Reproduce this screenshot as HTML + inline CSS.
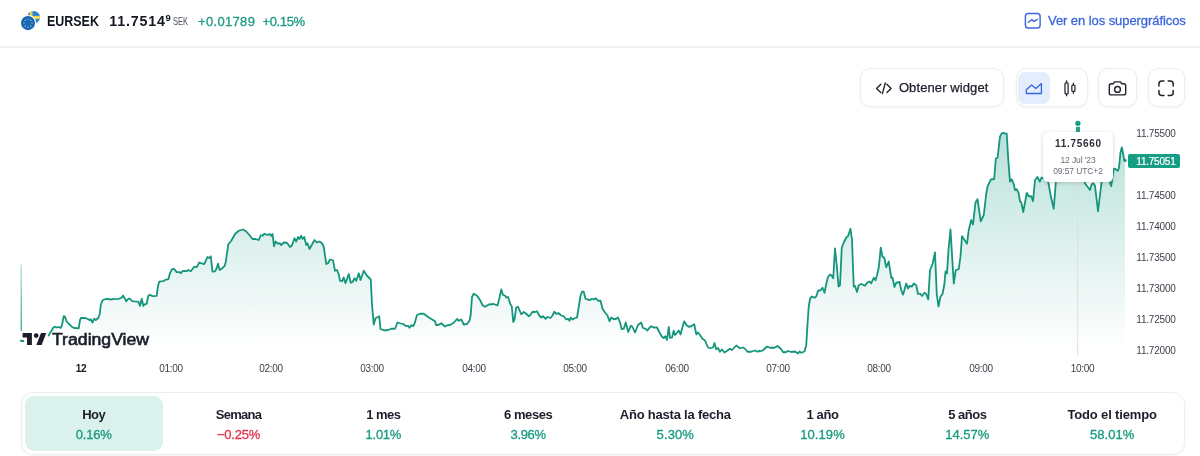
<!DOCTYPE html>
<html lang="es"><head><meta charset="utf-8"><title>EURSEK</title>
<style>
*{box-sizing:border-box;margin:0;padding:0}
html,body{width:1200px;height:456px;background:#fff;overflow:hidden}
body{font-family:"Liberation Sans",sans-serif;color:#131722;position:relative;will-change:transform}
.abs{position:absolute}
.hdr{position:absolute;left:0;top:0;width:1200px;height:48px;border-bottom:2px solid #f0f1f3}
.sym{position:absolute;left:46.9px;top:12px;font-weight:700;font-size:14.2px;line-height:18px;white-space:nowrap;transform:scaleX(0.878);transform-origin:0 0}
.px{position:absolute;left:109.2px;top:12.1px;font-weight:700;font-size:14.2px;line-height:18px;letter-spacing:0.85px;white-space:nowrap}
.px sup{font-size:9.5px;vertical-align:baseline;position:relative;top:-5.1px;left:-0.2px;letter-spacing:0}
.cur{position:absolute;left:172.9px;top:16.1px;font-size:10.4px;line-height:12px;color:#4a4d58;transform:scaleX(0.72);transform-origin:0 0}
.chg{position:absolute;top:12.7px;font-size:13px;line-height:18px;color:#1a9a80;white-space:nowrap;font-weight:400;-webkit-text-stroke:0.3px #1a9a80}
.lnk{position:absolute;left:1048px;top:12.4px;font-size:13px;line-height:18px;color:#3d66dc;white-space:nowrap;letter-spacing:-0.07px;-webkit-text-stroke:0.3px #3d66dc}
.btn{position:absolute;top:68.3px;height:39.2px;border:1px solid #eeeeef;border-radius:10px;background:#fff;box-shadow:0 1px 3px rgba(0,0,0,.05)}
.bt{position:absolute;left:37.6px;top:9.9px;font-size:13px;line-height:18px;white-space:nowrap;color:#20232e;letter-spacing:0.1px;-webkit-text-stroke:0.25px #20232e}
.yl{position:absolute;left:1136.3px;font-size:10px;line-height:12px;color:#3c3f4a;letter-spacing:-0.2px;white-space:nowrap}
.xl{position:absolute;top:363px;width:60px;text-align:center;font-size:10px;line-height:12px;color:#3c3f4a;letter-spacing:-0.3px}
.xl.b{font-weight:700;color:#131722}
.rng{position:absolute;left:21px;top:392px;width:1163.5px;height:62.6px;border:1px solid #eeeeef;border-radius:12px;box-shadow:0 1px 3px rgba(0,0,0,.05)}
.cell{position:absolute;top:396.3px;height:54.4px;border-radius:9px;text-align:center;padding-top:10.2px}
.cell.act{background:#dbf1ec}
.rl{font-size:13px;line-height:17px;font-weight:700;color:#1c1f2a;letter-spacing:-0.6px;white-space:nowrap}
.rv{font-size:13px;line-height:17px;margin-top:2.6px;-webkit-text-stroke:0.32px currentColor}
.up{color:#1a9a80}.dn{color:#e0364b}
.tip{position:absolute;left:1043px;top:132px;width:70px;height:50px;background:#fff;border-radius:5px;box-shadow:0 1px 4px rgba(0,0,0,.18);text-align:center}
.tip .v{font-size:10px;font-weight:700;line-height:12px;margin-top:6.4px;letter-spacing:0.68px;padding-left:0.7px;color:#2a2e39}
.tip .d{font-size:8.5px;line-height:11px;color:#6a6d78;letter-spacing:-0.1px}
.plab{position:absolute;left:1127.7px;top:154.4px;width:52.5px;height:13.3px;border-radius:2px;background:#169e84;color:#fff;font-size:10px;line-height:15.2px;padding-left:8.6px;letter-spacing:-0.22px;-webkit-text-stroke:0.2px #fff;overflow:hidden}
.tvt{position:absolute;left:51.5px;top:329.5px;font-size:15.8px;font-weight:400;line-height:20px;color:#1c1f2a;transform:scaleX(1.117);transform-origin:0 0;white-space:nowrap;-webkit-text-stroke:0.6px #1c1f2a;text-shadow:0 0 2px #fff,0 0 2px #fff,0 0 3px #fff}
</style></head><body>
<div class="hdr">
<svg class="abs" style="left:19px;top:8px" width="24" height="24" viewBox="0 0 24 24">
<defs><clipPath id="se"><circle cx="14.6" cy="9.3" r="6.4"/></clipPath></defs>
<g clip-path="url(#se)"><rect x="7" y="1" width="16" height="16" fill="#2a86dc"/><rect x="10.8" y="1" width="2.7" height="16" fill="#f5d53f"/><rect x="7" y="7.9" width="16" height="3.1" fill="#f5d53f"/></g>
<circle cx="9" cy="15.1" r="8.1" fill="#fff"/>
<circle cx="9" cy="15.1" r="7.05" fill="#1766b8"/>
<g fill="#e6dfa0"><circle cx="9" cy="11.1" r=".6"/><circle cx="9" cy="19.1" r=".6"/><circle cx="5" cy="15.1" r=".6"/><circle cx="13" cy="15.1" r=".6"/><circle cx="6.2" cy="12.3" r=".6"/><circle cx="11.8" cy="12.3" r=".6"/><circle cx="6.2" cy="17.9" r=".6"/><circle cx="11.8" cy="17.9" r=".6"/></g>
</svg>
<div class="sym">EURSEK</div>
<div class="px">11.7514<sup>9</sup></div>
<div class="cur">SEK</div>
<div class="chg" style="left:198px;letter-spacing:0.33px">+0.01789</div>
<div class="chg" style="left:262.5px;letter-spacing:-0.37px">+0.15%</div>
<svg class="abs" style="left:1024px;top:12px" width="18" height="18" viewBox="1024 12 18 18" fill="none" stroke="#3d66dc" stroke-width="1.45" stroke-linecap="round" stroke-linejoin="round"><rect x="1025.4" y="13.4" width="14.7" height="14.7" rx="2.8"/><path d="M1028.4 22.2 L1031.6 19.7 L1034 21.4 L1037.4 19.3"/></svg>
<div class="lnk">Ver en los supergráficos</div>
</div>

<!-- toolbar -->
<div class="btn" style="left:860.3px;width:144px"><div class="bt">Obtener widget</div></div>
<div class="btn" style="left:1015.8px;width:72.6px"><div class="abs" style="left:1.2px;top:2.6px;width:32.2px;height:32.6px;border-radius:7px;background:#e3edfc"></div></div>
<div class="btn" style="left:1098.3px;width:38.4px"></div>
<div class="btn" style="left:1147.5px;width:37.2px"></div>
<svg class="abs" style="left:860px;top:64px" width="340" height="48" viewBox="860 64 340 48" fill="none" stroke-linecap="round" stroke-linejoin="round">
<g stroke="#20232e" stroke-width="1.35"><path d="M880.8 84.2 L876.6 88.4 L880.8 92.6"/><path d="M886.9 84.2 L891.1 88.4 L886.9 92.6"/><path d="M885.3 83 L882.4 93.6"/></g>
<path d="M1026.3 93.5 V89.7 L1031.6 85.1 L1035.8 88.5 L1041.4 83.6 V93.5 Z" stroke="#3566dd" stroke-width="1.3"/>
<g stroke="#20232e" stroke-width="1.25" stroke-linecap="butt"><rect x="1065" y="82.8" width="3.1" height="11" rx=".9"/><path d="M1066.55 80.3V82.8M1066.55 93.8V96.2"/><rect x="1071.85" y="85.1" width="3.1" height="6.3" rx=".9"/><path d="M1073.4 82.7V85.1M1073.4 91.4V93.8"/></g>
<g stroke="#20232e" stroke-width="1.4"><path d="M1109.3 85.7 a1.9 1.9 0 0 1 1.9 -1.9 h2 l1.3 -1.9 h6 l1.3 1.9 h2 a1.9 1.9 0 0 1 1.9 1.9 v7.3 a1.9 1.9 0 0 1 -1.9 1.9 h-12.6 a1.9 1.9 0 0 1 -1.9 -1.9 Z"/><circle cx="1117.5" cy="89.4" r="2.9"/></g>
<g stroke="#20232e" stroke-width="1.5"><path d="M1158.9 86 V84 a3 3 0 0 1 3 -3 H1163.9"/><path d="M1168.2 81 H1170.2 a3 3 0 0 1 3 3 V86"/><path d="M1173.2 90.4 V92.4 a3 3 0 0 1 -3 3 H1168.2"/><path d="M1163.9 95.4 H1161.9 a3 3 0 0 1 -3 -3 V90.4"/></g>
</svg>

<!-- chart -->
<svg class="abs" style="left:0;top:0" width="1200" height="380" viewBox="0 0 1200 380">
<defs><linearGradient id="g" x1="0" y1="130" x2="0" y2="349" gradientUnits="userSpaceOnUse"><stop offset="0" stop-color="#169b82" stop-opacity=".305"/><stop offset="1" stop-color="#169b82" stop-opacity="0"/></linearGradient><linearGradient id="vg" x1="0" y1="264" x2="0" y2="335" gradientUnits="userSpaceOnUse"><stop offset="0" stop-color="#169b82" stop-opacity=".3"/><stop offset="1" stop-color="#14957c" stop-opacity="1"/></linearGradient></defs>
<path d="M20,265 L20.5,265 L20.9,340.6 L21.3,341 L23.4,341 L24.6,341.2 L30,339.5 L36,340 L42,337.5 L47,336.8 L48.5,335.5 L50.5,332.2 L52,330 L53.3,327.5 L55,326.7 L56.7,327.5 L58.3,327 L60.8,327.8 L62,325 L63.7,316.2 L65,316.7 L66.7,321.7 L69.2,324.2 L71.7,326.7 L74.2,328 L78.7,328.3 L80,320 L81.2,317.8 L85,318 L87.5,318.8 L90,320.3 L90.8,319.2 L92.5,322.5 L94.2,318.7 L95.8,320 L98.3,318 L99.7,314.2 L100.8,305 L102.5,300.3 L105,299.2 L108.3,298.8 L110,299.5 L113.3,299.2 L118.3,298.8 L121.3,298 L123,295.5 L125,298.7 L126.3,301.3 L128.3,298.7 L130,298.7 L131.7,300.8 L133.7,301.3 L138.3,301.7 L140,305.8 L141.7,298.7 L143.3,305.8 L145,304.2 L146.7,303.8 L148.3,295.8 L150,294.7 L152.5,296.2 L156.7,295.8 L158,285.8 L159.2,281.7 L163.3,281.2 L165,280 L168.3,279.2 L170,273.3 L171.7,269.7 L173.3,268.7 L175,269.7 L176.7,272.2 L179.7,272.2 L180.8,273.3 L182.5,271.2 L185,270.8 L186.7,271.2 L188.3,270 L190.8,271.2 L194.2,266.7 L196.7,267.2 L199.2,262.5 L201.7,263.3 L204.2,264.2 L207.5,257 L209.2,258 L210.8,256.3 L212.5,271.7 L215,271.3 L216.3,269.2 L218,263.7 L219.7,270 L221.7,268.7 L224.7,265.8 L225.8,261.7 L227.5,250 L228.2,244.5 L231.25,240.75 L235,234 L238.75,230.75 L243,229.5 L246.25,231.5 L250,235.75 L252.5,239 L255.5,239 L258.75,240 L260.75,235.25 L262.5,235.75 L264.5,233.75 L267.5,235 L269.5,234 L271.25,235.75 L272.5,234 L274,246.25 L275.5,241.5 L278,243.75 L279.5,243.25 L281.25,245 L283.75,242.5 L287,242.75 L290,247 L291.75,245.75 L294.5,238.25 L296.25,241.5 L298,237 L299.25,239 L301.25,235.75 L302.5,239 L304.25,237 L306.25,245 L307.5,243.25 L309.5,249 L312,244.5 L314.5,240 L316.75,242.5 L319.5,241.5 L322,243.25 L323.75,247 L326.25,264 L328,263.25 L330,259.5 L333,260.25 L335,270.75 L337,270 L338.75,274.5 L340,280.75 L342,281.25 L343.75,277.5 L345.5,283.25 L348.75,274 L350.75,282.75 L352.5,282 L354.5,278.25 L356.25,280.75 L358.75,273.25 L360.5,280 L363.75,270.75 L367,275.75 L370.75,279.5 L372,304.5 L373.75,324.5 L375.5,318.25 L379.25,316.25 L380.5,329 L383.75,330.25 L387.5,330.25 L391.25,328.75 L395,328.75 L397.5,322.5 L400,323.25 L403,324 L406.25,326.25 L408,325.75 L409.5,327.75 L411.25,325.25 L413,326.25 L414.5,323.75 L417,315 L420,313.75 L423.75,313.75 L427.5,316.5 L430,318.25 L435,321.25 L436.25,325.25 L439.5,324.5 L441.25,323.25 L445,326.5 L447.5,325.25 L450,325 L453.75,322.75 L457,319 L458.75,320.75 L461.25,319.5 L463.75,324.5 L467,324 L469.5,320.75 L470.75,314.5 L472,297 L473.75,293.75 L477,295.75 L480,300 L482.5,305 L485,306.75 L488.75,304.5 L493.75,304 L497.5,305.5 L499.5,297.5 L501.25,289.5 L503,295 L505,295.5 L506.25,297.5 L508,297 L510.5,304.5 L511.75,306.25 L513.25,322 L514.5,319.5 L516.25,307.5 L518,306.75 L521.25,314.25 L523.75,312 L526.25,313.75 L528.75,316.25 L530.75,314.5 L532.5,311.75 L535,312 L537,311.25 L539.25,315.5 L541.25,317.5 L543,316.25 L545.5,318.75 L547.5,317 L550.5,318 L552.5,315.5 L554.25,311.75 L556.25,313.75 L558.75,313.25 L561.25,315.5 L563.75,316.25 L566.25,319.5 L568,318.75 L569.5,320.75 L570.75,317.5 L572.5,319.5 L574.5,318.25 L577,317.5 L578.75,307 L580.5,295.75 L582,291.75 L583.75,291.75 L585.5,298.75 L587.5,299.5 L590,300 L592,298.75 L593.75,299.5 L595.75,298.25 L598,300.75 L600.5,300.75 L602.5,308.75 L605,312.5 L607.5,315.5 L609.5,321.25 L611.25,317.5 L613.75,319.25 L616.25,318.75 L618,317.5 L620,322.5 L621.75,329.25 L623.75,328.75 L625.75,322.5 L628.25,332 L630.75,325.75 L632.5,327 L635,332.5 L638,325 L641.25,322.5 L643,328 L645.5,328.75 L647.5,330.5 L649.25,328 L651.25,326.25 L653.75,327.5 L657,327.5 L659.5,332.5 L662,336.75 L663.75,338 L665.5,336.25 L667,340 L668.75,327 L670,338 L672,337.5 L673.75,330.75 L675,335 L676.75,333 L678.75,330.5 L680.5,334.5 L682.5,327 L684.25,321.25 L686.25,325 L688.75,326.75 L691.25,326.25 L694.25,324.25 L696.25,334.25 L698,332.5 L700,335 L702.5,338.75 L705,340.5 L708,347.5 L710.5,348.25 L713,347.5 L714.5,343 L716.25,349.25 L718,348 L720,351.75 L722,349.5 L724.5,352.5 L727.5,350.5 L730,348.75 L732,350 L736.25,345.5 L740,348.25 L743,347.5 L745,348.75 L747.5,351.75 L751.25,351.75 L755,350.5 L757.5,351.75 L759.5,350.75 L760,351.5 L763,350.25 L767,346.5 L770,347.75 L774.5,347.75 L777.5,346 L780.5,348.5 L783.25,352.25 L785.75,352.25 L788,351 L791.25,352 L795,351.5 L798,353.5 L799.5,351.5 L801.25,352.75 L804.5,351.5 L806.25,345.25 L807.5,324 L808.75,306.5 L810,299 L811.75,296.5 L814.5,297.75 L816.25,296.5 L818,290.75 L820.5,290.25 L822.5,287.75 L824.5,292.75 L826.25,284 L828,277 L830,274.5 L831.75,275.75 L833.25,278.25 L835,248.5 L836.75,265.25 L838.5,286.5 L840,285.25 L841.75,248 L843.75,242.5 L846.25,237.5 L848,236.25 L850.5,228.75 L852,240 L853.75,286.5 L855,286 L857,292 L858.75,285.25 L861.25,284 L865,285.75 L867.5,282.25 L869.5,281.5 L871.25,283.25 L873.75,277.75 L875.5,280.25 L877,275.25 L878.75,267.75 L880.75,247.75 L882.5,256.5 L884.25,257.75 L886.25,267.25 L888.75,261.5 L891.25,277.75 L892.5,277.75 L894.5,287 L896.25,282.75 L899.5,282 L901.25,290.25 L903,294.75 L906.25,283.5 L908,288.5 L909.5,286 L912,286.5 L913.75,283.5 L916.25,285.25 L918,294 L920,293.5 L922,296 L924.5,292.75 L926.25,294 L928.25,299.5 L930,270.25 L932.5,264 L935,252.5 L936.75,294 L938.5,306.5 L940.5,296.5 L942.5,294 L944.25,285.25 L945.5,271.5 L947,273.5 L948.5,250 L950.5,229.5 L953.75,283.5 L955.75,270.25 L958.75,269 L960.5,256.5 L962,236.25 L967,243.75 L968.75,230 L971.25,220 L973,224.5 L975.5,202.5 L977.5,199.25 L980.75,221.25 L983.75,215 L986.25,193.75 L987.5,186.7 L990.8,179.5 L994.2,179 L995.8,158.5 L997.5,158 L1000,136.7 L1001.7,133.3 L1003.7,132.8 L1005,133.7 L1006.7,133.7 L1008.3,160 L1010,181.7 L1011.7,179.2 L1013.7,184.2 L1015,190 L1016.7,189.2 L1018.7,193.3 L1020,201.25 L1021.25,202.5 L1023.25,212 L1026.75,193 L1028.75,196.25 L1031.25,196.25 L1033,201.25 L1035,180 L1037.5,177 L1039.7,181.7 L1041.7,177.5 L1043.3,178.3 L1046,176 L1048.3,182.5 L1050.8,196 L1053.75,208.75 L1055.8,182.5 L1057,172 L1060,176 L1063,170 L1066,174 L1069,168 L1072,172 L1075,166 L1077.2,123 L1078.8,123 L1080,175 L1083,178 L1085,183.3 L1087.5,186.7 L1090,190 L1091.7,184.2 L1093.3,183.3 L1095,185.8 L1098,211.25 L1101.5,182.5 L1104,178 L1106.25,180 L1108.75,179.5 L1111.25,186.25 L1113.5,169.4 L1115,168.6 L1116.7,170 L1117.9,170.8 L1119,167.5 L1120.4,153.3 L1121.8,147.3 L1122.9,152.5 L1124.2,160 L1125,160.4 L1125,356 L20,356 Z" fill="url(#g)"/>
<path d="M1077.7,182 V356" stroke="#dededf" stroke-width="1"/>
<path d="M21.25,264.5 V330.8 M21.25,339.8 V341" stroke="url(#vg)" stroke-width="1.15"/>
<path d="M20.9,340.6 L21.3,341 L23.4,341 M48.5,335.5 L50.5,332.2 L52,330 L53.3,327.5 L55,326.7 L56.7,327.5 L58.3,327 L60.8,327.8 L62,325 L63.7,316.2 L65,316.7 L66.7,321.7 L69.2,324.2 L71.7,326.7 L74.2,328 L78.7,328.3 L80,320 L81.2,317.8 L85,318 L87.5,318.8 L90,320.3 L90.8,319.2 L92.5,322.5 L94.2,318.7 L95.8,320 L98.3,318 L99.7,314.2 L100.8,305 L102.5,300.3 L105,299.2 L108.3,298.8 L110,299.5 L113.3,299.2 L118.3,298.8 L121.3,298 L123,295.5 L125,298.7 L126.3,301.3 L128.3,298.7 L130,298.7 L131.7,300.8 L133.7,301.3 L138.3,301.7 L140,305.8 L141.7,298.7 L143.3,305.8 L145,304.2 L146.7,303.8 L148.3,295.8 L150,294.7 L152.5,296.2 L156.7,295.8 L158,285.8 L159.2,281.7 L163.3,281.2 L165,280 L168.3,279.2 L170,273.3 L171.7,269.7 L173.3,268.7 L175,269.7 L176.7,272.2 L179.7,272.2 L180.8,273.3 L182.5,271.2 L185,270.8 L186.7,271.2 L188.3,270 L190.8,271.2 L194.2,266.7 L196.7,267.2 L199.2,262.5 L201.7,263.3 L204.2,264.2 L207.5,257 L209.2,258 L210.8,256.3 L212.5,271.7 L215,271.3 L216.3,269.2 L218,263.7 L219.7,270 L221.7,268.7 L224.7,265.8 L225.8,261.7 L227.5,250 L228.2,244.5 L231.25,240.75 L235,234 L238.75,230.75 L243,229.5 L246.25,231.5 L250,235.75 L252.5,239 L255.5,239 L258.75,240 L260.75,235.25 L262.5,235.75 L264.5,233.75 L267.5,235 L269.5,234 L271.25,235.75 L272.5,234 L274,246.25 L275.5,241.5 L278,243.75 L279.5,243.25 L281.25,245 L283.75,242.5 L287,242.75 L290,247 L291.75,245.75 L294.5,238.25 L296.25,241.5 L298,237 L299.25,239 L301.25,235.75 L302.5,239 L304.25,237 L306.25,245 L307.5,243.25 L309.5,249 L312,244.5 L314.5,240 L316.75,242.5 L319.5,241.5 L322,243.25 L323.75,247 L326.25,264 L328,263.25 L330,259.5 L333,260.25 L335,270.75 L337,270 L338.75,274.5 L340,280.75 L342,281.25 L343.75,277.5 L345.5,283.25 L348.75,274 L350.75,282.75 L352.5,282 L354.5,278.25 L356.25,280.75 L358.75,273.25 L360.5,280 L363.75,270.75 L367,275.75 L370.75,279.5 L372,304.5 L373.75,324.5 L375.5,318.25 L379.25,316.25 L380.5,329 L383.75,330.25 L387.5,330.25 L391.25,328.75 L395,328.75 L397.5,322.5 L400,323.25 L403,324 L406.25,326.25 L408,325.75 L409.5,327.75 L411.25,325.25 L413,326.25 L414.5,323.75 L417,315 L420,313.75 L423.75,313.75 L427.5,316.5 L430,318.25 L435,321.25 L436.25,325.25 L439.5,324.5 L441.25,323.25 L445,326.5 L447.5,325.25 L450,325 L453.75,322.75 L457,319 L458.75,320.75 L461.25,319.5 L463.75,324.5 L467,324 L469.5,320.75 L470.75,314.5 L472,297 L473.75,293.75 L477,295.75 L480,300 L482.5,305 L485,306.75 L488.75,304.5 L493.75,304 L497.5,305.5 L499.5,297.5 L501.25,289.5 L503,295 L505,295.5 L506.25,297.5 L508,297 L510.5,304.5 L511.75,306.25 L513.25,322 L514.5,319.5 L516.25,307.5 L518,306.75 L521.25,314.25 L523.75,312 L526.25,313.75 L528.75,316.25 L530.75,314.5 L532.5,311.75 L535,312 L537,311.25 L539.25,315.5 L541.25,317.5 L543,316.25 L545.5,318.75 L547.5,317 L550.5,318 L552.5,315.5 L554.25,311.75 L556.25,313.75 L558.75,313.25 L561.25,315.5 L563.75,316.25 L566.25,319.5 L568,318.75 L569.5,320.75 L570.75,317.5 L572.5,319.5 L574.5,318.25 L577,317.5 L578.75,307 L580.5,295.75 L582,291.75 L583.75,291.75 L585.5,298.75 L587.5,299.5 L590,300 L592,298.75 L593.75,299.5 L595.75,298.25 L598,300.75 L600.5,300.75 L602.5,308.75 L605,312.5 L607.5,315.5 L609.5,321.25 L611.25,317.5 L613.75,319.25 L616.25,318.75 L618,317.5 L620,322.5 L621.75,329.25 L623.75,328.75 L625.75,322.5 L628.25,332 L630.75,325.75 L632.5,327 L635,332.5 L638,325 L641.25,322.5 L643,328 L645.5,328.75 L647.5,330.5 L649.25,328 L651.25,326.25 L653.75,327.5 L657,327.5 L659.5,332.5 L662,336.75 L663.75,338 L665.5,336.25 L667,340 L668.75,327 L670,338 L672,337.5 L673.75,330.75 L675,335 L676.75,333 L678.75,330.5 L680.5,334.5 L682.5,327 L684.25,321.25 L686.25,325 L688.75,326.75 L691.25,326.25 L694.25,324.25 L696.25,334.25 L698,332.5 L700,335 L702.5,338.75 L705,340.5 L708,347.5 L710.5,348.25 L713,347.5 L714.5,343 L716.25,349.25 L718,348 L720,351.75 L722,349.5 L724.5,352.5 L727.5,350.5 L730,348.75 L732,350 L736.25,345.5 L740,348.25 L743,347.5 L745,348.75 L747.5,351.75 L751.25,351.75 L755,350.5 L757.5,351.75 L759.5,350.75 L760,351.5 L763,350.25 L767,346.5 L770,347.75 L774.5,347.75 L777.5,346 L780.5,348.5 L783.25,352.25 L785.75,352.25 L788,351 L791.25,352 L795,351.5 L798,353.5 L799.5,351.5 L801.25,352.75 L804.5,351.5 L806.25,345.25 L807.5,324 L808.75,306.5 L810,299 L811.75,296.5 L814.5,297.75 L816.25,296.5 L818,290.75 L820.5,290.25 L822.5,287.75 L824.5,292.75 L826.25,284 L828,277 L830,274.5 L831.75,275.75 L833.25,278.25 L835,248.5 L836.75,265.25 L838.5,286.5 L840,285.25 L841.75,248 L843.75,242.5 L846.25,237.5 L848,236.25 L850.5,228.75 L852,240 L853.75,286.5 L855,286 L857,292 L858.75,285.25 L861.25,284 L865,285.75 L867.5,282.25 L869.5,281.5 L871.25,283.25 L873.75,277.75 L875.5,280.25 L877,275.25 L878.75,267.75 L880.75,247.75 L882.5,256.5 L884.25,257.75 L886.25,267.25 L888.75,261.5 L891.25,277.75 L892.5,277.75 L894.5,287 L896.25,282.75 L899.5,282 L901.25,290.25 L903,294.75 L906.25,283.5 L908,288.5 L909.5,286 L912,286.5 L913.75,283.5 L916.25,285.25 L918,294 L920,293.5 L922,296 L924.5,292.75 L926.25,294 L928.25,299.5 L930,270.25 L932.5,264 L935,252.5 L936.75,294 L938.5,306.5 L940.5,296.5 L942.5,294 L944.25,285.25 L945.5,271.5 L947,273.5 L948.5,250 L950.5,229.5 L953.75,283.5 L955.75,270.25 L958.75,269 L960.5,256.5 L962,236.25 L967,243.75 L968.75,230 L971.25,220 L973,224.5 L975.5,202.5 L977.5,199.25 L980.75,221.25 L983.75,215 L986.25,193.75 L987.5,186.7 L990.8,179.5 L994.2,179 L995.8,158.5 L997.5,158 L1000,136.7 L1001.7,133.3 L1003.7,132.8 L1005,133.7 L1006.7,133.7 L1008.3,160 L1010,181.7 L1011.7,179.2 L1013.7,184.2 L1015,190 L1016.7,189.2 L1018.7,193.3 L1020,201.25 L1021.25,202.5 L1023.25,212 L1026.75,193 L1028.75,196.25 L1031.25,196.25 L1033,201.25 L1035,180 L1037.5,177 L1039.7,181.7 L1041.7,177.5 L1043.3,178.3 L1046,176 L1048.3,182.5 L1050.8,196 L1053.75,208.75 L1055.8,182.5 L1057,172 L1060,176 L1063,170 L1066,174 L1069,168 L1072,172 L1075,166 L1077.2,123 L1078.8,123 L1080,175 L1083,178 L1085,183.3 L1087.5,186.7 L1090,190 L1091.7,184.2 L1093.3,183.3 L1095,185.8 L1098,211.25 L1101.5,182.5 L1104,178 L1106.25,180 L1108.75,179.5 L1111.25,186.25 L1113.5,169.4 L1115,168.6 L1116.7,170 L1117.9,170.8 L1119,167.5 L1120.4,153.3 L1121.8,147.3 L1122.9,152.5 L1124.2,160 L1125,160.4" fill="none" stroke="#14957c" stroke-width="1.8" stroke-linejoin="round" stroke-linecap="round"/>
<circle cx="1077.9" cy="123.3" r="3.7" fill="#fff"/><circle cx="1077.9" cy="123.3" r="2.6" fill="#169b82"/>
<circle cx="1125" cy="160.4" r="1.7" fill="#169b82"/>
</svg>
<div class="yl" style="top:128.2px">11.75500</div><div class="yl" style="top:190.3px">11.74500</div><div class="yl" style="top:220.8px">11.74000</div><div class="yl" style="top:251.8px">11.73500</div><div class="yl" style="top:282.9px">11.73000</div><div class="yl" style="top:313.6px">11.72500</div><div class="yl" style="top:344.5px">11.72000</div>
<div class="xl b" style="left:51px">12</div><div class="xl" style="left:141px">01:00</div><div class="xl" style="left:241px">02:00</div><div class="xl" style="left:342px">03:00</div><div class="xl" style="left:444px">04:00</div><div class="xl" style="left:545px">05:00</div><div class="xl" style="left:647px">06:00</div><div class="xl" style="left:748px">07:00</div><div class="xl" style="left:849px">08:00</div><div class="xl" style="left:951px">09:00</div><div class="xl" style="left:1052.6px">10:00</div>
<div class="plab">11.75051</div>
<div class="tip"><div class="v">11.75660</div><div class="d" style="margin-top:4.4px">12 Jul '23</div><div class="d">09:57 UTC+2</div></div>

<!-- TradingView logo -->
<svg class="abs" style="left:18px;top:329px" width="34" height="21" viewBox="18 329 34 21"><g fill="#fff" stroke="#fff" stroke-width="4" stroke-linejoin="round"><path d="M22.6 333 H31.9 V345 H27 V337.5 H22.6 Z"/><circle cx="36.2" cy="335.6" r="2.35"/><path d="M41 333 H46.3 L41.6 345 H36.3 Z"/></g><g fill="#1c1f2a"><path d="M22.6 333 H31.9 V345 H27 V337.5 H22.6 Z"/><circle cx="36.2" cy="335.6" r="2.35"/><path d="M41 333 H46.3 L41.6 345 H36.3 Z"/></g></svg>
<div class="tvt">TradingView</div>

<div class="rng"></div>
<div class="cell act" style="left:24.60px;width:138.3px"><div class="rl" style="letter-spacing:-0.5px">Hoy</div><div class="rv up" style="letter-spacing:-0.15px">0.16%</div></div>
<div class="cell" style="left:169.40px;width:138.3px"><div class="rl" style="letter-spacing:-0.68px">Semana</div><div class="rv dn" style="letter-spacing:-0.23px">−0.25%</div></div>
<div class="cell" style="left:314.20px;width:138.3px"><div class="rl" style="letter-spacing:-0.55px">1 mes</div><div class="rv up" style="letter-spacing:-0.27px">1.01%</div></div>
<div class="cell" style="left:459.00px;width:138.3px"><div class="rl" style="letter-spacing:-0.4px">6 meses</div><div class="rv up" style="letter-spacing:-0.3px">3.96%</div></div>
<div class="cell" style="left:603.80px;width:143px"><div class="rl" style="letter-spacing:-0.22px">Año hasta la fecha</div><div class="rv up" style="letter-spacing:0.1px">5.30%</div></div>
<div class="cell" style="left:753.40px;width:138.3px"><div class="rl" style="letter-spacing:-0.37px">1 año</div><div class="rv up" style="letter-spacing:0.08px">10.19%</div></div>
<div class="cell" style="left:898.20px;width:138.3px"><div class="rl" style="letter-spacing:-0.52px">5 años</div><div class="rv up" style="letter-spacing:0px">14.57%</div></div>
<div class="cell" style="left:1043.00px;width:138.3px"><div class="rl" style="letter-spacing:-0.15px">Todo el tiempo</div><div class="rv up" style="letter-spacing:0.05px">58.01%</div></div>

</body></html>
